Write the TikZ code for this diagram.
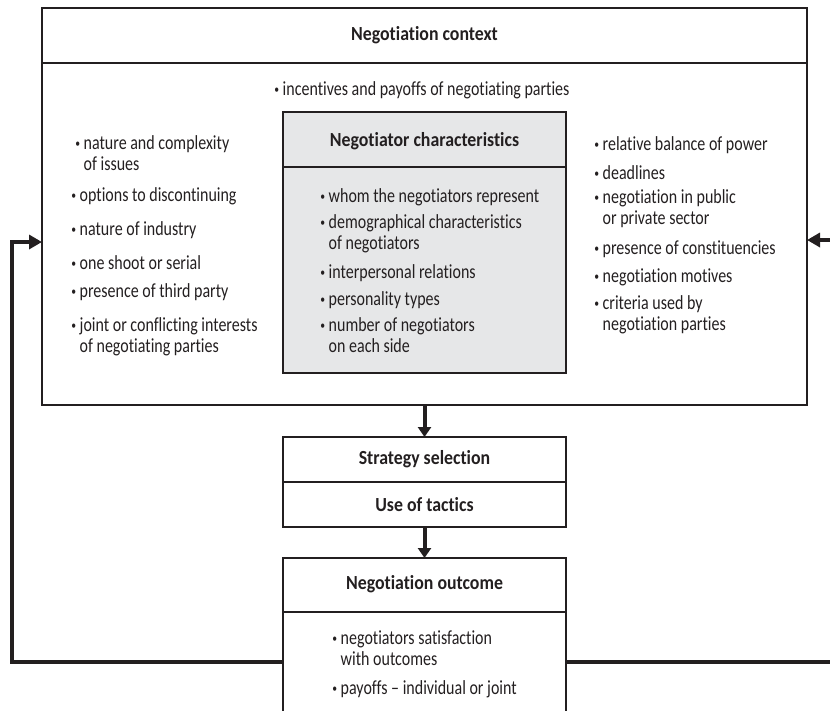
\documentclass[tikz,border=0pt]{standalone}
\usepackage{fontspec}
\setmainfont{Carlito}[FakeStretch=0.80, Ligatures=NoCommon, BoldFeatures={FakeStretch=0.89}]
\usetikzlibrary{arrows.meta,positioning}

\definecolor{ink}{HTML}{231F20}
\definecolor{panel}{HTML}{E6E7E8}
\newcommand{\bu}{\makebox[7.5pt][l]{\hspace*{-0.8pt}\raisebox{1.8pt}{\scalebox{0.6}{\textbullet}}}}
\newcommand{\ind}{\hspace*{7.5pt}}

\begin{document}
\begin{tikzpicture}[x=1pt,y=-1pt,
        every node/.style={font=\fontsize{20}{21}\selectfont, text=ink},
        box/.style={draw=ink, line width=1.6pt, inner sep=0pt, outer sep=0pt},
        title/.style={font=\fontsize{20}{21}\selectfont\bfseries},
        item/.style={anchor=north west, inner sep=0pt, align=left, yshift=7.8pt, execute at begin node=\strut},
        flow/.style={draw=ink, line width=4pt, -{Triangle[length=10pt,width=13pt]}},
        feed/.style={draw=ink, line width=4.5pt, -{Triangle[length=13pt,width=14pt]}}]
        \useasboundingbox (0,0) rectangle (830,710);
        \clip (0,0) rectangle (830,710);

        % Negotiation context
        \node[box, minimum width=765pt, minimum height=397pt] (ctx) at (424.5,206.5) {};
        \draw[ink, line width=1.6pt] (ctx.west |- 0,63) -- (ctx.east |- 0,63);
        \node[title] (ctxtitle) at (424.5,35) {Negotiation context};
        \node[item] (inc) at (275,88) {\bu incentives and payoffs of negotiating parties};

        \foreach \x/\y/\t [count=\i] in {76/143/{\bu nature and complexity\\\ind of issues},
                72/194/{\bu options to discontinuing},
                72/228/{\bu nature of industry},
                72/262/{\bu one shoot or serial},
                72/290/{\bu presence of third party},
                72/325/{\bu joint or conflicting interests\\\ind of negotiating parties}}
        \node[item] (lft\i) at (\x,\y) {\t};

        \foreach \y/\t [count=\i] in {143/{\bu relative balance of power},
                172/{\bu deadlines},
                197/{\bu negotiation in public\\\ind or private sector},
                247/{\bu presence of constituencies},
                275/{\bu negotiation motives},
                303/{\bu criteria used by\\\ind negotiation parties}}
        \node[item] (rgt\i) at (595,\y) {\t};

        % Negotiator characteristics
        \node[box, fill=panel, minimum width=283pt, minimum height=261pt] (chr) at (424.5,242.5) {};
        \draw[ink, line width=1.6pt] (chr.west |- 0,167) -- (chr.east |- 0,167);
        \node[title] (chrtitle) at (424.5,141) {Negotiator characteristics};

        \foreach \y/\t [count=\i] in {195/{\bu whom the negotiators represent},
                222/{\bu demographical characteristics\\\ind of negotiators},
                271/{\bu interpersonal relations},
                298/{\bu personality types},
                325/{\bu number of negotiators\\\ind on each side}}
        \node[item] (chr\i) at (321,\y) {\t};

        % Strategy and tactics
        \node[box, title, minimum width=283pt, minimum height=45pt] (strat) at (424.5,459.5) {Strategy selection};
        \node[box, title, minimum width=283pt, minimum height=45pt, below=0pt of strat] (tact) {Use of tactics};

        % Negotiation outcome
        \node[box, minimum width=283pt, minimum height=170pt] (outc) at (424.5,643) {};
        \draw[ink, line width=1.6pt] (outc.west |- 0,612) -- (outc.east |- 0,612);
        \node[title] (outctitle) at (424.5,584) {Negotiation outcome};

        \foreach \y/\t [count=\i] in {638/{\bu negotiators satisfaction\\\ind with outcomes},
                687/{\bu payoffs -- individual or joint}}
        \node[item] (outc\i) at (333,\y) {\t};

        % Arrows
        \draw[flow] (ctx.south) -- (strat.north);
        \draw[flow] (tact.south) -- (outc.north);

        \coordinate (fbl) at (12,662);
        \coordinate (fbr) at (845,662);
        \draw[feed] (outc.west |- fbl) -- (fbl) |- (ctx.west |- 0,242);
        \draw[feed] (outc.east |- fbr) -- (fbr) |- (ctx.east |- 0,240);

    \end{tikzpicture}
\end{document}
